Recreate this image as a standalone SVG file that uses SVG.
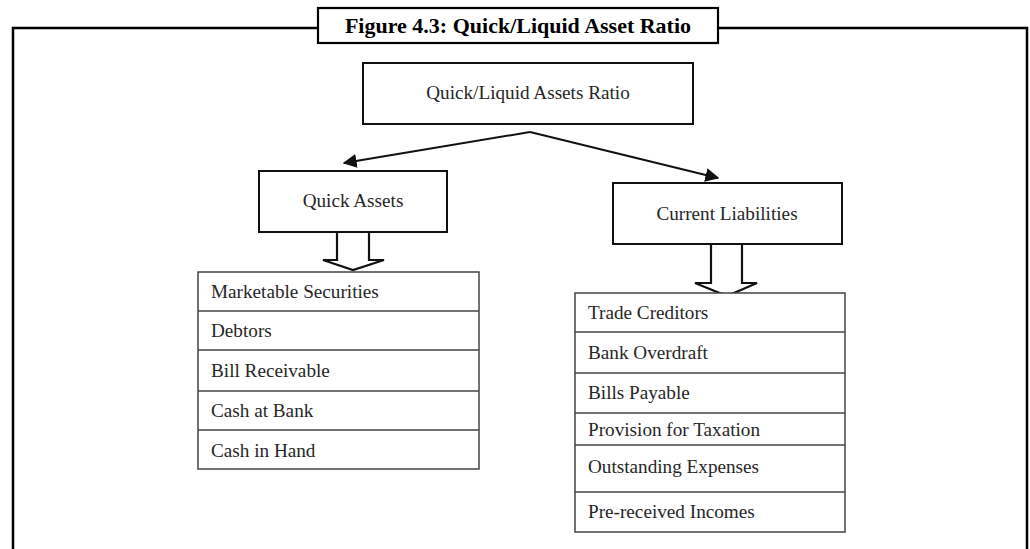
<svg xmlns="http://www.w3.org/2000/svg" width="1030" height="549" viewBox="0 0 1030 549">
<style>
.frame{fill:none;stroke:#000;stroke-width:2.5}
.node{fill:#fff;stroke:#111;stroke-width:2}
.list{fill:#fff;stroke:#444;stroke-width:1.5}
.sep{stroke:#444;stroke-width:1.5}
.t{font-family:"Liberation Serif",serif;font-size:19.2px;fill:#262626}
.c{text-anchor:middle}
.title{font-family:"Liberation Serif",serif;font-size:22px;font-weight:bold;fill:#000;text-anchor:middle}
.conn{stroke:#111;stroke-width:2;fill:none}
.block{fill:#fff;stroke:#111;stroke-width:2.2;stroke-linejoin:miter}
</style>
<defs>
<marker id="ah" viewBox="0 0 10 10" refX="9" refY="5" markerWidth="7" markerHeight="7" orient="auto" markerUnits="strokeWidth">
<path d="M0,0 L10,5 L0,10 Z" fill="#111"/>
</marker>
</defs>
<rect width="1030" height="549" fill="#fff"/>
<path class="frame" d="M13,549 V28 H318 M718,28 H1027 V549"/>
<g id="title">
<rect x="318" y="8" width="400" height="35" fill="#fff" stroke="#000" stroke-width="2.2"/>
<text class="title" x="518" y="33">Figure 4.3: Quick/Liquid Asset Ratio</text>
</g>
<g id="connectors">
<line class="conn" x1="530" y1="132" x2="344" y2="163" marker-end="url(#ah)"/>
<line class="conn" x1="530" y1="132" x2="718" y2="178" marker-end="url(#ah)"/>
<polygon class="block" points="337,232 337,260 323,260 353,270 384,260 369,260 369,232"/>
<polygon class="block" points="711,244 711,283 695,283 727,296 757,283 742,283 742,244"/>
</g>
<g id="root">
<rect class="node" x="363" y="63" width="330" height="61"/>
<text class="t c" x="528" y="99">Quick/Liquid Assets Ratio</text>
</g>
<g id="quick-assets">
<rect class="node" x="259" y="171" width="188" height="61"/>
<text class="t c" x="353" y="207">Quick Assets</text>
</g>
<g id="current-liabilities">
<rect class="node" x="613" y="183" width="229" height="61"/>
<text class="t c" x="727" y="220">Current Liabilities</text>
</g>
<g id="quick-assets-list">
<rect class="list" x="198" y="272" width="281" height="197"/>
<line class="sep" x1="198" y1="311" x2="479" y2="311"/>
<line class="sep" x1="198" y1="350" x2="479" y2="350"/>
<line class="sep" x1="198" y1="391" x2="479" y2="391"/>
<line class="sep" x1="198" y1="430" x2="479" y2="430"/>
<text class="t" x="211" y="298">Marketable Securities</text>
<text class="t" x="211" y="337">Debtors</text>
<text class="t" x="211" y="377">Bill Receivable</text>
<text class="t" x="211" y="417">Cash at Bank</text>
<text class="t" x="211" y="457">Cash in Hand</text>
</g>
<g id="current-liabilities-list">
<rect class="list" x="575" y="293" width="270" height="239"/>
<line class="sep" x1="575" y1="332" x2="845" y2="332"/>
<line class="sep" x1="575" y1="373" x2="845" y2="373"/>
<line class="sep" x1="575" y1="413" x2="845" y2="413"/>
<line class="sep" x1="575" y1="445" x2="845" y2="445"/>
<line class="sep" x1="575" y1="492" x2="845" y2="492"/>
<text class="t" x="588" y="319">Trade Creditors</text>
<text class="t" x="588" y="359">Bank Overdraft</text>
<text class="t" x="588" y="399">Bills Payable</text>
<text class="t" x="588" y="436">Provision for Taxation</text>
<text class="t" x="588" y="473">Outstanding Expenses</text>
<text class="t" x="588" y="518">Pre-received Incomes</text>
</g>
</svg>
